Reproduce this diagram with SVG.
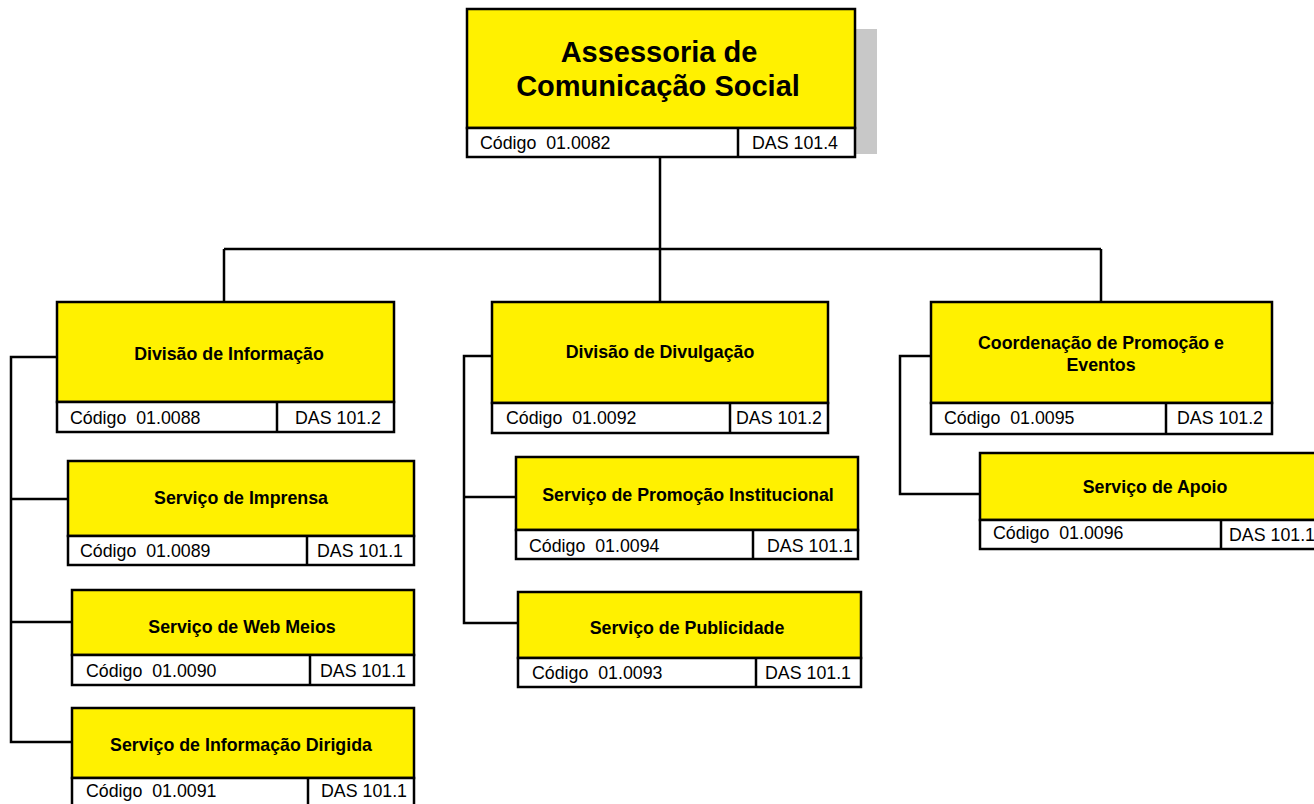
<svg xmlns="http://www.w3.org/2000/svg" width="1314" height="804" viewBox="0 0 1314 804">
<style>
.y{fill:#FFF100;stroke:#000;stroke-width:2.5}
.w{fill:#fff;stroke:#000;stroke-width:2.5}
.d{stroke:#000;stroke-width:2.5}
.t{font-family:"Liberation Sans",Arial,Helvetica,sans-serif;font-weight:bold;font-size:17.8px;fill:#000;text-anchor:middle}
.tt{font-family:"Liberation Sans",Arial,Helvetica,sans-serif;font-weight:bold;font-size:29px;fill:#000;text-anchor:middle}
.c{font-family:"Liberation Sans",Arial,Helvetica,sans-serif;font-size:17.8px;fill:#000;white-space:pre}
#connectors path{fill:none;stroke:#000;stroke-width:2.5}
</style>
<rect width="1314" height="804" fill="#fff"/>
<g id="connectors">
<path d="M660 157 V249 M224 249 H1101 M224 249 V302 M660 249 V302 M1101 249 V302"/>
<path d="M57 357 H11 V742 H72 M11 499 H68 M11 622 H72"/>
<path d="M492 356 H464 V623 H518 M464 497 H516"/>
<path d="M931 356 H900 V494 H980"/>
</g>
<g id="n-root">
<rect x="855" y="29" width="22" height="125" fill="#c8c8c8"/>
<rect class="y" x="467" y="9" width="388" height="119"/>
<rect class="w" x="467" y="128" width="388" height="29"/>
<line class="d" x1="738" y1="128" x2="738" y2="157"/>
<text class="tt" x="659" y="62">Assessoria de</text>
<text class="tt" x="658" y="96">Comunicação Social</text>
<text class="c" x="480" y="149" xml:space="preserve">Código  01.0082</text>
<text class="c" x="752" y="149">DAS 101.4</text>
</g>
<g id="n-div-info">
<rect class="y" x="57" y="302" width="337" height="100"/>
<rect class="w" x="57" y="402" width="337" height="30"/>
<line class="d" x1="277" y1="402" x2="277" y2="432"/>
<text class="t" x="229" y="360">Divisão de Informação</text>
<text class="c" x="70" y="424" xml:space="preserve">Código  01.0088</text>
<text class="c" x="295" y="424">DAS 101.2</text>
</g>
<g id="n-imprensa">
<rect class="y" x="68" y="461" width="346" height="75"/>
<rect class="w" x="68" y="536" width="346" height="29"/>
<line class="d" x1="307" y1="536" x2="307" y2="565"/>
<text class="t" x="241" y="504">Serviço de Imprensa</text>
<text class="c" x="80" y="557" xml:space="preserve">Código  01.0089</text>
<text class="c" x="317" y="557">DAS 101.1</text>
</g>
<g id="n-webmeios">
<rect class="y" x="72" y="590" width="342" height="65"/>
<rect class="w" x="72" y="655" width="342" height="30"/>
<line class="d" x1="310" y1="655" x2="310" y2="685"/>
<text class="t" x="242" y="633">Serviço de Web Meios</text>
<text class="c" x="86" y="677" xml:space="preserve">Código  01.0090</text>
<text class="c" x="320" y="677">DAS 101.1</text>
</g>
<g id="n-info-dirigida">
<rect class="y" x="72" y="708" width="342" height="70"/>
<rect class="w" x="72" y="778" width="342" height="30"/>
<line class="d" x1="308" y1="778" x2="308" y2="808"/>
<text class="t" x="241" y="751">Serviço de Informação Dirigida</text>
<text class="c" x="86" y="797" xml:space="preserve">Código  01.0091</text>
<text class="c" x="321" y="797">DAS 101.1</text>
</g>
<g id="n-div-divulgacao">
<rect class="y" x="492" y="302" width="336" height="101"/>
<rect class="w" x="492" y="403" width="336" height="30"/>
<line class="d" x1="730" y1="403" x2="730" y2="433"/>
<text class="t" x="660" y="358">Divisão de Divulgação</text>
<text class="c" x="506" y="424" xml:space="preserve">Código  01.0092</text>
<text class="c" x="736" y="424">DAS 101.2</text>
</g>
<g id="n-promocao">
<rect class="y" x="516" y="457" width="342" height="73"/>
<rect class="w" x="516" y="530" width="342" height="29"/>
<line class="d" x1="753" y1="530" x2="753" y2="559"/>
<text class="t" x="688" y="501">Serviço de Promoção Institucional</text>
<text class="c" x="529" y="552" xml:space="preserve">Código  01.0094</text>
<text class="c" x="767" y="552">DAS 101.1</text>
</g>
<g id="n-publicidade">
<rect class="y" x="518" y="592" width="343" height="66"/>
<rect class="w" x="518" y="658" width="343" height="29"/>
<line class="d" x1="756" y1="658" x2="756" y2="687"/>
<text class="t" x="687" y="634">Serviço de Publicidade</text>
<text class="c" x="532" y="679" xml:space="preserve">Código  01.0093</text>
<text class="c" x="765" y="679">DAS 101.1</text>
</g>
<g id="n-coordenacao">
<rect class="y" x="931" y="302" width="341" height="101"/>
<rect class="w" x="931" y="403" width="341" height="31"/>
<line class="d" x1="1166" y1="403" x2="1166" y2="434"/>
<text class="t" x="1101" y="349">Coordenação de Promoção e</text>
<text class="t" x="1101" y="371">Eventos</text>
<text class="c" x="944" y="424" xml:space="preserve">Código  01.0095</text>
<text class="c" x="1177" y="424">DAS 101.2</text>
</g>
<g id="n-apoio">
<rect class="y" x="980" y="453" width="350" height="67"/>
<rect class="w" x="980" y="520" width="350" height="29"/>
<line class="d" x1="1221" y1="520" x2="1221" y2="549"/>
<text class="t" x="1155" y="493">Serviço de Apoio</text>
<text class="c" x="993" y="539" xml:space="preserve">Código  01.0096</text>
<text class="c" x="1229" y="541">DAS 101.1</text>
</g>
</svg>
